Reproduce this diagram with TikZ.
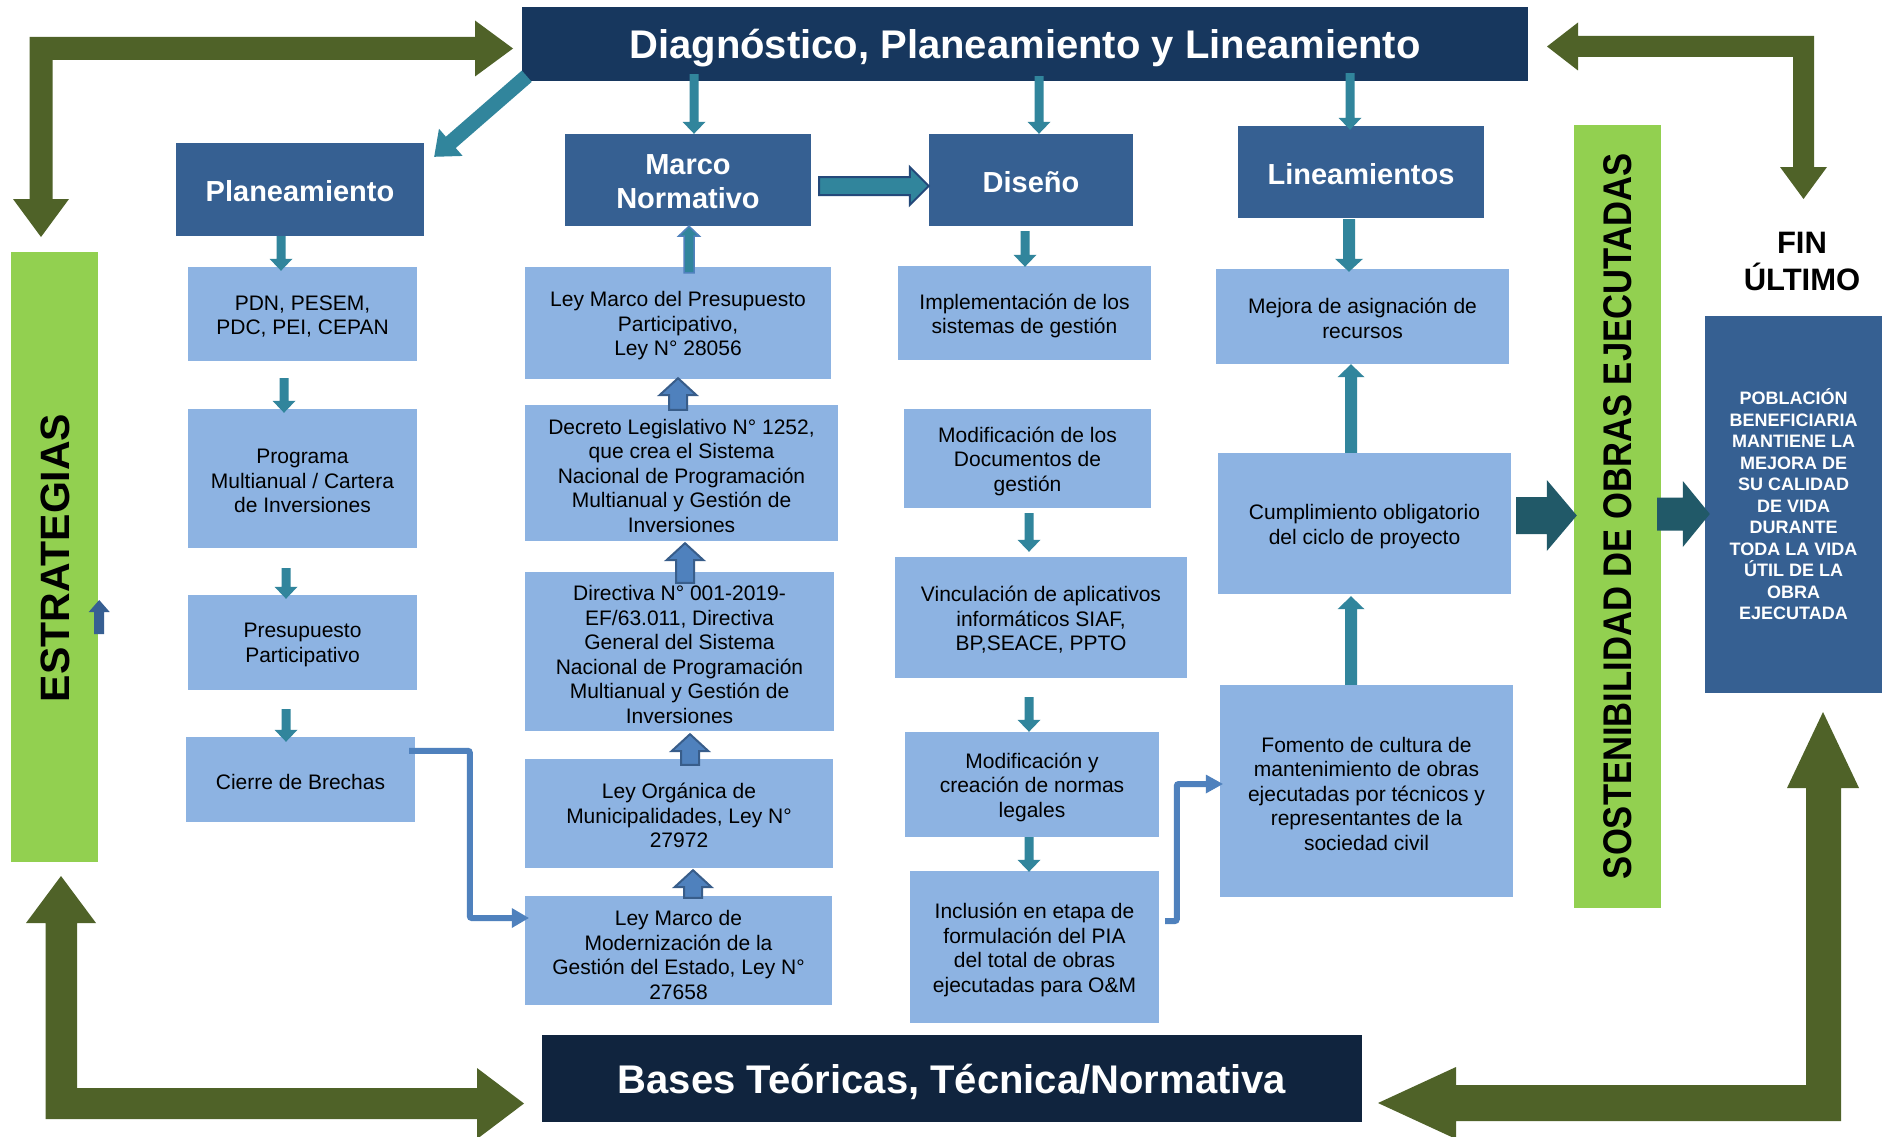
\documentclass[tikz,border=0pt]{standalone}
\usepackage{fontspec}
\setmainfont{Liberation Sans}
\usepackage{graphicx}
\usetikzlibrary{calc}
\definecolor{navyA}{HTML}{17375E}
\definecolor{navyB}{HTML}{10243E}
\definecolor{midblue}{HTML}{366092}
\definecolor{lightblue}{HTML}{8DB3E2}
\definecolor{tealA}{HTML}{31859C}
\definecolor{tealD}{HTML}{215968}
\definecolor{lgreen}{HTML}{92D050}
\definecolor{olive}{HTML}{4F6228}
\definecolor{steel}{HTML}{4F81BD}
\definecolor{steelD}{HTML}{385D8A}
\definecolor{navyline}{HTML}{24497A}
\definecolor{smallup}{HTML}{375F92}
% block arrow: style, start, tip, shaft half width, head half width, head length
\newcommand\barrow[6]{%
  \coordinate (baA) at (#2);
  \coordinate (baB) at (#3);
  \coordinate (baH) at ($(baB)!#6pt!(baA)$);
  \path[#1] ($(baA)!#4pt!90:(baB)$) -- ($(baH)!#4pt!90:(baB)$) -- ($(baH)!#5pt!90:(baB)$) -- (baB) -- ($(baH)!#5pt!-90:(baB)$) -- ($(baH)!#4pt!-90:(baB)$) -- ($(baA)!#4pt!-90:(baB)$) -- cycle;}
% light box: name, cx, cy, w, h, text dy, text
\newcommand\lb[7]{%
  \node[lbox, minimum width=#4pt, minimum height=#5pt] (#1) at (#2,#3) {};
  \node[lbl] (#1T) at ($(#1.center)+(0,#6)$) {#7};}
% mid box: name, cx, cy, w, h, text
\newcommand\mb[6]{%
  \node[mbox, minimum width=#4pt, minimum height=#5pt] (#1) at (#2,#3) {};
  \node[mtxt] (#1T) at ($(#1.center)+(0,2)$) {#6};}
\begin{document}
\begin{tikzpicture}[x=1pt,y=-1pt,
  hdr/.style={text=white, inner sep=0pt, text depth=0pt, font=\bfseries\fontsize{40}{48}\selectfont},
  mbox/.style={fill=midblue, inner sep=0pt},
  mtxt/.style={text=white, inner sep=0pt, align=center, font=\bfseries\fontsize{29}{34}\selectfont},
  lbox/.style={fill=lightblue, inner sep=0pt},
  lbl/.style={align=center, inner sep=0pt, font=\fontsize{21}{24.5}\selectfont},
  gbar/.style={fill=lgreen, inner sep=0pt},
  bigtxt/.style={inner sep=0pt, font=\bfseries\fontsize{41}{48}\selectfont},
  conn/.style={draw=steel, line width=6pt, rounded corners=2pt},
  thinarr/.style={fill=tealA},
  fatup/.style={fill=steel, draw=steelD, line width=2pt, line join=miter},
  olivearr/.style={fill=olive}
]
\useasboundingbox (0,0) rectangle (1889,1137);
\fill[white] (0,0) rectangle (1889,1137);
\clip (0,0) rectangle (1889,1137);

% ---- olive bent arrows ----
\path[olivearr] (41,237) -- (69,199) -- (52.5,199) -- (52.5,60) -- (475,60) -- (475,76.5) -- (513,48.5) -- (475,20.5) -- (475,37) -- (29.5,37) -- (29.5,199) -- (13,199) -- cycle;
\path[olivearr] (1547,46.5) -- (1578,22.5) -- (1578,36) -- (1814,36) -- (1814,167) -- (1827,167) -- (1803.5,199) -- (1780,167) -- (1793,167) -- (1793,57) -- (1578,57) -- (1578,70.5) -- cycle;
\path[olivearr] (61,876) -- (96,923) -- (77,923) -- (77,1088) -- (477,1088) -- (477,1068) -- (524,1103.5) -- (477,1139) -- (477,1119) -- (45.5,1119) -- (45.5,923) -- (26,923) -- cycle;
\path[olivearr] (1823,712) -- (1859,788) -- (1841,788) -- (1841,1121) -- (1456,1121) -- (1456,1139) -- (1378,1103) -- (1456,1067) -- (1456,1085) -- (1806,1085) -- (1806,788) -- (1787,788) -- cycle;

% ---- header boxes ----
\node[hdr, fill=navyA, minimum width=1006pt, minimum height=74pt] (diag) at (1025,44) {Diagnóstico, Planeamiento y Lineamiento};
\node[hdr, fill=navyB, minimum width=820pt, minimum height=87pt] (bases) at (952,1078.5) {Bases Teóricas, Técnica/Normativa};

% ---- green bars ----
\node[gbar, minimum width=87pt, minimum height=610pt] (estrat) at (54.5,557) {};
\node[bigtxt, rotate=90] (estratT) at (55,558) {ESTRATEGIAS};
\node[gbar, minimum width=87pt, minimum height=783pt] (sosten) at (1617.5,516.5) {};
\node[bigtxt, rotate=90, font=\bfseries\fontsize{40}{48}\selectfont] (sostenT) at (1618,516) {\scalebox{0.865}[1]{SOSTENIBILIDAD DE OBRAS EJECUTADAS}};

% ---- mid boxes ----
\mb{plan}{300}{189.5}{248}{93}{Planeamiento}
\mb{marco}{688}{180}{246}{92}{Marco\\Normativo}
\mb{diseno}{1031}{180}{204}{92}{Diseño}
\mb{lineam}{1361}{172}{246}{92}{Lineamientos}

% ---- column 1 ----
\lb{pdn}{302.5}{314}{229}{94}{2.5}{PDN, PESEM,\\PDC, PEI, CEPAN}
\lb{prog}{302.5}{478.5}{229}{139}{2.5}{Programa\\Multianual / Cartera\\de Inversiones}
\lb{presu}{302.5}{642.5}{229}{95}{2.5}{Presupuesto\\Participativo}
\lb{cierre}{300.5}{779.5}{229}{85}{2}{Cierre de Brechas}

% ---- column 2 ----
\lb{leymarco}{678}{323}{306}{112}{3}{Ley Marco del Presupuesto\\Participativo,\\Ley N° 28056}
\lb{decreto}{681.5}{473}{313}{136}{2.5}{Decreto Legislativo N° 1252,\\que crea el Sistema\\Nacional de Programación\\Multianual y Gestión de\\Inversiones}
\lb{directiva}{679.5}{651.5}{309}{159}{3}{Directiva N° 001-2019-\\EF/63.011, Directiva\\General del Sistema\\Nacional de Programación\\Multianual y Gestión de\\Inversiones}
\lb{leyorg}{679}{813.5}{308}{109}{2}{Ley Orgánica de\\Municipalidades, Ley N°\\27972}
\lb{leymod}{678.5}{950.5}{307}{109}{4.5}{Ley Marco de\\Modernización de la\\Gestión del Estado, Ley N°\\27658}

% ---- column 3 ----
\lb{impl}{1024.5}{313}{253}{94}{3}{Implementación de los\\sistemas de gestión}
\lb{moddoc}{1027.5}{458.5}{247}{99}{2.5}{Modificación de los\\Documentos de\\gestión}
\lb{vinc}{1041}{617.5}{292}{121}{2.5}{Vinculación de aplicativos\\informáticos SIAF,\\BP,SEACE, PPTO}
\lb{modnorm}{1032}{784.5}{254}{105}{2.5}{Modificación y\\creación de normas\\legales}
\lb{inclus}{1034.5}{947}{249}{152}{3}{Inclusión en etapa de\\formulación del PIA\\del total de obras\\ejecutadas para O\&M}

% ---- column 4 ----
\lb{mejora}{1362.5}{316.5}{293}{95}{2}{Mejora de asignación de\\recursos}
\lb{cumpl}{1364.5}{523.5}{293}{141}{3}{Cumplimiento obligatorio\\del ciclo de proyecto}
\lb{fomento}{1366.5}{791}{293}{212}{2.5}{Fomento de cultura de\\mantenimiento de obras\\ejecutadas por técnicos y\\representantes de la\\sociedad civil}

% ---- fin ultimo ----
\node[align=center, inner sep=0pt, font=\bfseries\fontsize{31}{37}\selectfont] (fin) at (1802,261) {FIN\\ÚLTIMO};
\node[fill=midblue, text=white, inner sep=0pt, align=center, minimum width=177pt, minimum height=377pt, font=\bfseries\fontsize{18}{21.5}\selectfont] (pobl) at (1793.5,504.5) {POBLACIÓN\\BENEFICIARIA\\MANTIENE LA\\MEJORA DE\\SU CALIDAD\\DE VIDA\\DURANTE\\TODA LA VIDA\\ÚTIL DE LA\\OBRA\\EJECUTADA};

% ---- teal thin arrows ----
\barrow{thinarr}{$(diag.south west)+(5,-5)$}{$(plan.north east)+(10,14)$}{7.5}{18}{22}
\barrow{thinarr}{$(diag.south)+(-331,-7)$}{$(marco.north)+(6,0)$}{4.5}{11.5}{12}
\barrow{thinarr}{$(diag.south)+(14,-5)$}{$(diseno.north)+(8,0)$}{4.5}{11.5}{12}
\barrow{thinarr}{$(diag.south)+(325,-8)$}{$(lineam.north)+(-11,4)$}{4.5}{11.5}{12}
\barrow{thinarr}{$(plan.south)+(-19,0)$}{$(pdn.north)+(-21.5,4)$}{4.5}{11.5}{12}
\barrow{thinarr}{$(pdn.south)+(-18.5,17)$}{$(prog.north)+(-18.5,4)$}{4.5}{11.5}{12}
\barrow{thinarr}{$(prog.south)+(-16.5,20)$}{$(presu.north)+(-16.5,4)$}{4.5}{11.5}{12}
\barrow{thinarr}{$(presu.south)+(-16.5,19)$}{$(cierre.north)+(-14.5,5)$}{4.5}{11.5}{12}
\barrow{thinarr}{$(diseno.south)+(-6,5)$}{$(impl.north)+(0.5,1)$}{4.5}{11.5}{12}
\barrow{thinarr}{$(moddoc.south)+(1.5,5)$}{$(vinc.north)+(-12,-5)$}{4.5}{11.5}{12}
\barrow{thinarr}{$(vinc.south)+(-12,19)$}{$(modnorm.north)+(-3,0)$}{4.5}{11.5}{12}
\barrow{thinarr}{$(modnorm.south)+(-3,0)$}{$(inclus.north)+(-5.5,1)$}{4.5}{11.5}{12}
\barrow{thinarr}{$(lineam.south)+(-12,1)$}{$(mejora.north)+(-13.5,3)$}{6}{14}{13}
\barrow{thinarr}{$(cumpl.north)+(-13.5,0)$}{$(mejora.south)+(-11.5,0)$}{6}{13.5}{13}
\barrow{thinarr}{$(fomento.north)+(-15.5,0)$}{$(cumpl.south)+(-13.5,2)$}{6}{13.5}{13}

% marco -> diseno
\barrow{fill=tealA, draw=navyline, line width=2pt}{$(marco.east)+(8,6)$}{$(diseno.west)+(0,6)$}{9}{19}{19}

% column 2 up arrows
\barrow{fill=tealA, draw=steel, line width=1.5pt}{$(leymarco.north)+(11,6)$}{$(marco.south)+(1,0)$}{5}{10.5}{10}
\barrow{fatup}{$(decreto.north)+(-3.5,5)$}{$(leymarco.south)+(0,-1)$}{9}{18.5}{17}
\barrow{fatup}{$(directiva.north)+(5.5,11)$}{$(decreto.south)+(3.5,2)$}{9}{18.5}{17}
\barrow{fatup}{$(leyorg.north)+(11,6)$}{$(directiva.south)+(10.5,3)$}{9}{18.5}{17}
\barrow{fatup}{$(leymod.north)+(14.5,2)$}{$(leyorg.south)+(14,2)$}{9}{18.5}{17}

% big dark teal arrows
\barrow{fill=tealD}{$(cumpl.east)+(5,-8)$}{$(sosten.west)+(3,-1)$}{18.5}{35.5}{30}
\barrow{fill=tealD}{$(sosten.east)+(-4,-2.5)$}{$(pobl.west)+(5,9.5)$}{16.5}{33}{27}

% small up arrow beside ESTRATEGIAS
\barrow{fill=smallup}{$(estrat.east)+(1,77)$}{$(estrat.east)+(1,43)$}{5}{10.5}{12}

% elbow connectors
\coordinate (c1t) at ($(leymod.west)+(4,-32.5)$);
\coordinate (c1h) at ($(c1t)+(-17,0)$);
\draw[conn] ($(cierre.north east)+(-6,14)$) -| ($(c1h)+(-42,0)$) -- (c1h);
\fill[steel] ($(c1h)+(0,-10)$) -- (c1t) -- ($(c1h)+(0,10)$) -- cycle;

\coordinate (c2t) at ($(fomento.west)+(3,-7)$);
\coordinate (c2h) at ($(c2t)+(-17,0)$);
\draw[conn] ($(inclus.east)+(6,-26)$) -| ($(c2h)+(-29,0)$) -- (c2h);
\fill[steel] ($(c2h)+(0,-9.5)$) -- (c2t) -- ($(c2h)+(0,9.5)$) -- cycle;
\end{tikzpicture}
\end{document}
